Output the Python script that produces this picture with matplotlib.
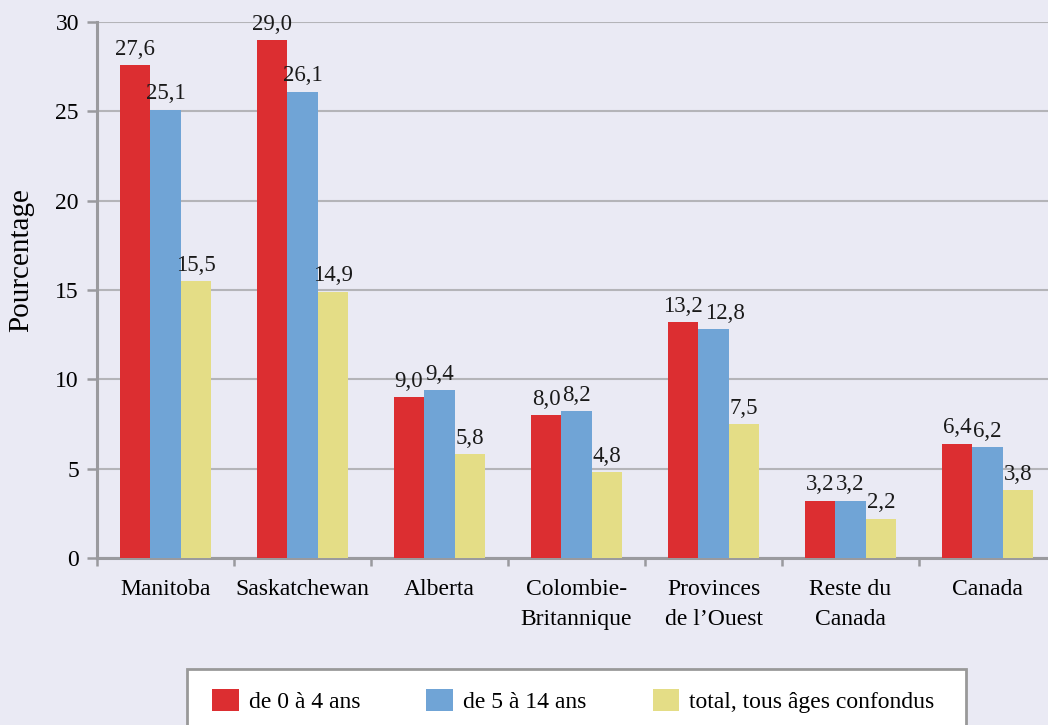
import matplotlib
matplotlib.use("Agg")
import matplotlib.pyplot as plt
from matplotlib.patches import Rectangle
import numpy as np

regions = ["Manitoba", "Saskatchewan", "Alberta", "Colombie-\nBritannique",
           "Provinces\nde l’Ouest", "Reste du\nCanada", "Canada"]
age_0_4 = [27.6, 29.0, 9.0, 8.0, 13.2, 3.2, 6.4]
age_5_14 = [25.1, 26.1, 9.4, 8.2, 12.8, 3.2, 6.2]
total = [15.5, 14.9, 5.8, 4.8, 7.5, 2.2, 3.8]
series_names = ["de 0 à 4 ans", "de 5 à 14 ans", "total, tous âges confondus"]
colors = ["#dc2e31", "#70a4d6", "#e4dd86"]
bg = "#eaeaf4"

plt.rcParams["font.family"] = ["Liberation Serif", "DejaVu Serif"]
plt.rcParams["font.size"] = 17

fig = plt.figure(figsize=(10.48, 7.25), dpi=100, facecolor=bg)
ax = fig.add_axes([97 / 1048, 167 / 725, 959 / 1048, 536 / 725])
ax.set_facecolor(bg)

x = np.arange(len(regions))
w = 0.223
labels_by_group = [[] for _ in regions]
for k, (vals, c, name) in enumerate(zip([age_0_4, age_5_14, total], colors, series_names)):
    pos = x + (k - 1) * w
    bars = ax.bar(pos, vals, width=w, color=c, label=name, zorder=3)
    for i, (b, v) in enumerate(zip(bars, vals)):
        t = ax.text(b.get_x() + b.get_width() / 2, v + 0.3, f"{v:.1f}".replace(".", ","),
                    ha="center", va="bottom", fontsize=16.5, color="#1a1a1a", zorder=4)
        labels_by_group[i].append(t)

ax.set_xlim(-0.5, len(regions) - 0.5)
ax.set_ylim(0, 30)
ax.set_yticks(range(0, 31, 5))
ax.yaxis.grid(True, color="#b4b4b8", linewidth=1.5, zorder=0)
ax.set_axisbelow(True)

ax.set_xticks(x)
ax.set_xticklabels(regions, fontsize=17, linespacing=1.55)
ax.set_xticks(np.arange(-0.5, len(regions) + 0.5, 1), minor=True)
ax.tick_params(axis="x", which="major", length=0, pad=15)
ax.tick_params(axis="x", which="minor", length=6, width=1.8, color="#9a9a9e", direction="out")
ax.tick_params(axis="y", length=7, width=1.8, color="#9a9a9e", labelsize=17, pad=6)

for s in ["top", "right"]:
    ax.spines[s].set_visible(False)
for s in ["left", "bottom"]:
    ax.spines[s].set_color("#9a9a9e")
    ax.spines[s].set_linewidth(2.2)

ax.set_ylabel("Pourcentage", fontsize=21)
ax.yaxis.set_label_coords(-0.066, 0.556)

# nudge value labels to the right when they collide, like the original
fig.canvas.draw()
renderer = fig.canvas.get_renderer()
for group in labels_by_group:
    for prev, cur in zip(group, group[1:]):
        bp = prev.get_window_extent(renderer)
        bc = cur.get_window_extent(renderer)
        if bc.x0 < bp.x1 + 2 and bc.y0 < bp.y1 and bc.y1 > bp.y0:
            shift = bp.x1 + 2 - bc.x0
            px, py = ax.transData.transform(cur.get_position())
            cur.set_position(ax.transData.inverted().transform((px + shift, py)))

# legend box partly cut by the figure bottom
fig.patches.append(Rectangle((187 / 1048, -0.02), 779 / 1048, (725 - 669) / 725 + 0.02,
                             transform=fig.transFigure, facecolor="white",
                             edgecolor="#999999", linewidth=2, zorder=1))
handles, labels = ax.get_legend_handles_labels()
leg = fig.legend(handles, labels, ncol=3, frameon=False, borderpad=0,
                 loc="center left", bbox_to_anchor=(200 / 1048, 24 / 725),
                 fontsize=17, handlelength=1.14, handleheight=1.1,
                 handletextpad=0.42, columnspacing=2.8)
leg.set_zorder(5)

fig.savefig("out.png", dpi=100, facecolor=bg)
